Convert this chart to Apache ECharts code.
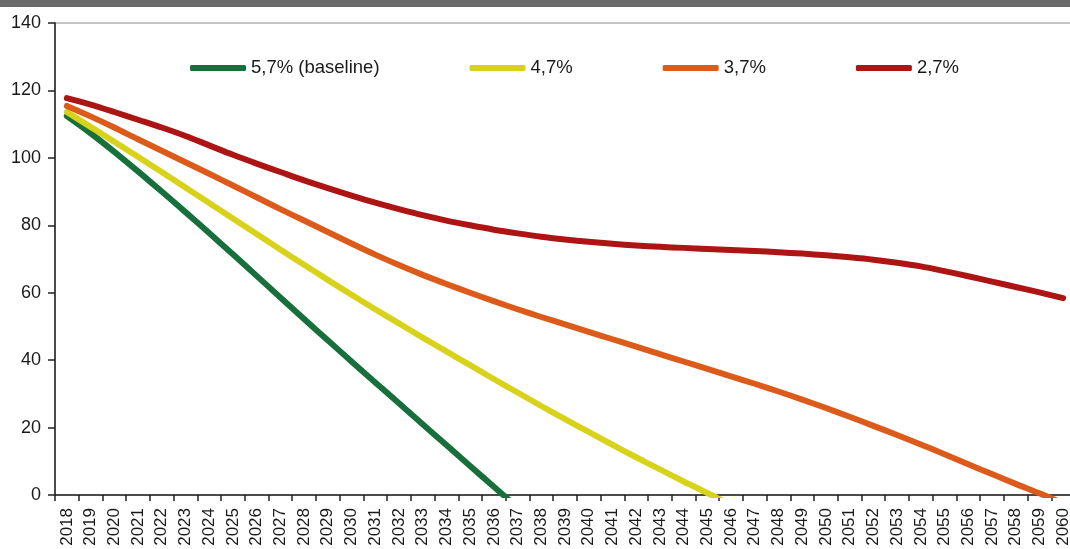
<!DOCTYPE html>
<html>
<head>
<meta charset="utf-8">
<script src="https://cdn.jsdelivr.net/npm/echarts@6/dist/echarts.min.js"></script>
<style>
html,body{margin:0;padding:0;background:#fff;}
#chart{width:1070px;height:549px;}
</style>
</head>
<body>
<div id="chart"></div>
<script>
var years = [];
for (var y = 2018; y <= 2060; y++) years.push(String(y));

var seriesNames = ['5,7% (baseline)', '4,7%', '3,7%', '2,7%'];
var seriesColors = ['#17703c', '#d9d21b', '#dc5b1a', '#ad1414'];

var green = [112.4, 107.3, 101.8, 96.0, 90.0, 83.9, 77.7, 71.4, 65.0, 58.6,
  52.2, 45.9, 39.6, 33.4, 27.2, 21.0, 14.8, 8.6, 2.45, -3.7];

var yellow = [113.6, 109.2, 104.8, 100.3, 95.8, 91.2, 86.6, 82.0, 77.4, 72.8,
  68.3, 63.8, 59.4, 55.1, 50.9, 46.7, 42.6, 38.5, 34.4, 30.4,
  26.4, 22.5, 18.7, 14.9, 11.2, 7.6, 4.0, 0.6, -2.9];

var orange = [115.4, 112.3, 109.0, 105.5, 102.1, 98.7, 95.3, 91.8, 88.3, 84.8,
  81.4, 78.0, 74.6, 71.3, 68.2, 65.3, 62.6, 60.0, 57.5, 55.1,
  52.8, 50.6, 48.4, 46.2, 44.0, 41.8, 39.6, 37.4, 35.2, 33.0,
  30.7, 28.3, 25.8, 23.2, 20.5, 17.8, 15.0, 12.1, 9.1, 6.2,
  3.3, 0.5, -2.5];

var red = [117.7, 115.8, 113.6, 111.3, 109.0, 106.5, 103.7, 100.9, 98.3, 95.8,
  93.3, 91.0, 88.8, 86.7, 84.8, 83.0, 81.4, 80.0, 78.7, 77.6,
  76.6, 75.8, 75.1, 74.5, 74.0, 73.6, 73.3, 73.0, 72.7, 72.4,
  72.0, 71.6, 71.1, 70.5, 69.8, 68.9, 67.8, 66.4, 64.9, 63.3,
  61.7, 60.1, 58.4];

var yTicks = {min: 0, max: 140, interval: 20};

var font = '"Liberation Sans", Arial, sans-serif';
var allData = [green, yellow, orange, red];

var chart = echarts.init(document.getElementById('chart'), null, {renderer: 'canvas'});

var series = allData.map(function (d, i) {
  return {
    name: seriesNames[i],
    type: 'line',
    data: d,
    smooth: 0.3,
    symbol: 'none',
    clip: true,
    lineStyle: {width: 6, color: seriesColors[i], cap: 'round', join: 'round'},
    itemStyle: {color: seriesColors[i]},
    emphasis: {disabled: true}
  };
});

chart.setOption({
  animation: false,
  backgroundColor: '#ffffff',
  graphic: [{
    type: 'rect',
    shape: {x: 0, y: 0, width: 1070, height: 7},
    style: {fill: '#6b6b6b'},
    silent: true
  }],
  legend: {
    left: 185,
    top: 53,
    itemWidth: 56,
    itemHeight: 6,
    itemGap: 90,
    icon: 'roundRect',
    data: seriesNames,
    textStyle: {fontSize: 18.5, fontFamily: font, color: '#1a1a1a', lineHeight: 20}
  },
  grid: {
    left: 55, top: 23, width: 1020, height: 472,
    outerBoundsMode: 'none',
    containLabel: false,
    show: true, borderColor: '#8a8a8a', borderWidth: 1, backgroundColor: 'transparent'
  },
  xAxis: {
    type: 'category',
    data: years,
    boundaryGap: true,
    axisLine: {lineStyle: {color: '#222', width: 1.5}},
    axisTick: {show: true, length: 6, lineStyle: {color: '#222', width: 1.5}},
    axisLabel: {interval: 0, rotate: 90, fontSize: 17, fontFamily: font, color: '#1a1a1a', margin: 13},
    splitLine: {show: false}
  },
  yAxis: {
    type: 'value',
    min: yTicks.min, max: yTicks.max, interval: yTicks.interval,
    axisLine: {show: true, lineStyle: {color: '#222', width: 1.5}},
    axisTick: {show: true, length: 7, lineStyle: {color: '#222', width: 1.5}},
    axisLabel: {fontSize: 18, fontFamily: font, color: '#1a1a1a', margin: 14},
    splitLine: {show: false}
  },
  series: series
});
</script>
</body>
</html>
